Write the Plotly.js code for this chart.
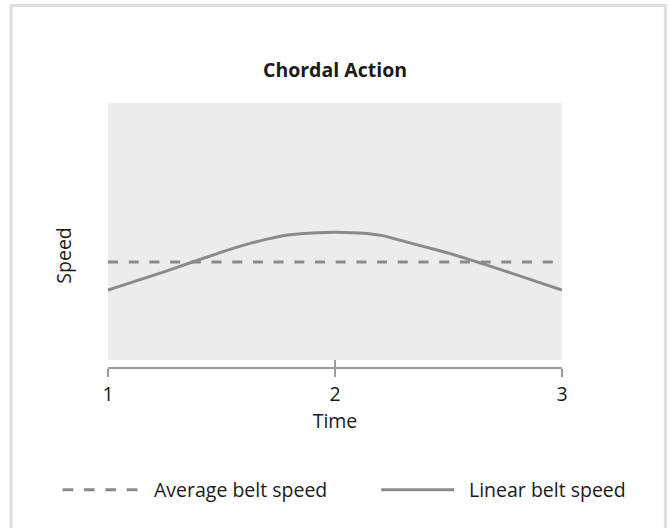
<!DOCTYPE html>
<html>
<head>
<meta charset="utf-8">
<script src="https://cdn.plot.ly/plotly-3.0.1.min.js"></script>
<style>
  html, body { margin: 0; padding: 0; background: #ffffff; }
  #chart { width: 670px; height: 528px; }
</style>
</head>
<body>
<div id="chart"></div>
<script>
// ---- Data ----
const chartTitle = 'Chordal Action';
const xTitle = 'Time';
const yTitle = 'Speed';
const seriesNames = ['Average belt speed', 'Linear belt speed'];
const xTickValues = [1, 2, 3];
const xTickLabels = ['1', '2', '3'];

const avgTime = [1, 3];
const avgSpeed = [1.05, 1.05];

const linTime = [1, 1.25, 1.5, 1.63, 1.7, 1.77, 1.85, 1.92, 2, 2.08, 2.15, 2.21, 2.31, 2.4, 2.5, 2.75, 3];
const linSpeed = [0.77, 0.955, 1.15, 1.24, 1.28, 1.315, 1.335, 1.345, 1.35, 1.345, 1.335, 1.315, 1.255, 1.20, 1.14, 0.96, 0.77];

// ---- Layout helpers (pixel -> paper) ----
const W = 670, H = 528;
const L = 107.5, R = 562, T = 102.7, B = 367;
const px = v => (v - L) / (R - L);
const py = v => (B - v) / (B - T);

const lineColor = '#8a8a8a';
const textColor = '#1a1a1a';
const fontFam = '"Open Sans", "Noto Sans", sans-serif';
const fs = 19.5;

const traces = [
  {
    x: avgTime, y: avgSpeed, name: seriesNames[0], type: 'scatter', mode: 'lines',
    line: { color: lineColor, width: 3, dash: '10px,10.7px' }, showlegend: false,
    hoverinfo: 'skip'
  },
  {
    x: linTime, y: linSpeed, name: seriesNames[1], type: 'scatter', mode: 'lines',
    line: { color: lineColor, width: 3, shape: 'spline', smoothing: 0.6 }, showlegend: false, hoverinfo: 'skip'
  },
  {
    x: [1, 3], y: [null, null], xaxis: 'x2', yaxis: 'y', showlegend: false,
    type: 'scatter', mode: 'lines', hoverinfo: 'skip'
  }
];

const legendY = 490;
const layout = {
  width: W, height: H,
  margin: { l: L, r: W - R, t: T, b: H - B, pad: 0 },
  paper_bgcolor: '#ffffff',
  plot_bgcolor: 'rgba(0,0,0,0)',
  font: { family: fontFam, color: textColor, size: fs },
  title: {
    text: '<b>' + chartTitle + '</b>',
    font: { family: fontFam, size: 19.5, color: textColor },
    x: 0.5, xref: 'paper', xanchor: 'center',
    y: 1 - 70 / H, yref: 'container', yanchor: 'middle'
  },
  xaxis: {
    range: [1, 3], tickvals: xTickValues, ticktext: xTickLabels,
    showline: true, linecolor: '#9a9a9a', linewidth: 1.5,
    ticks: 'outside', ticklen: 8, tickwidth: 1.5, tickcolor: '#9a9a9a',
    showgrid: false, zeroline: false, fixedrange: true,
    tickfont: { family: fontFam, size: fs, color: textColor },
    ticklabelstandoff: 1,
    title: { text: xTitle, font: { family: fontFam, size: fs, color: textColor }, standoff: 4 }
  },
  xaxis2: {
    overlaying: 'x', matches: 'x', range: [1, 3], tickvals: xTickValues,
    showticklabels: false, ticks: 'inside', ticklen: 7, tickwidth: 1.5, tickcolor: '#9a9a9a',
    showline: false, showgrid: false, zeroline: false, side: 'bottom', fixedrange: true
  },
  yaxis: {
    range: [0, (B - T) / 100], showticklabels: false, ticks: '', showline: false,
    showgrid: false, zeroline: false, fixedrange: true
  },
  shapes: [
    // plot background
    { type: 'rect', xref: 'paper', yref: 'paper', x0: 0, x1: 1, y0: py(360), y1: 1,
      fillcolor: '#ebecec', line: { width: 0 }, layer: 'below' },
    // outer frame
    { type: 'rect', xref: 'paper', yref: 'paper', x0: px(10.5), x1: px(665.5), y0: py(5), y1: py(540),
      fillcolor: 'rgba(0,0,0,0)', line: { color: '#dddddd', width: 3 }, layer: 'below' },
    // legend samples
    { type: 'line', xref: 'paper', yref: 'paper', x0: px(62), x1: px(140), y0: py(legendY), y1: py(legendY),
      line: { color: lineColor, width: 3, dash: '10.7px,10.7px' } },
    { type: 'line', xref: 'paper', yref: 'paper', x0: px(381), x1: px(454), y0: py(legendY), y1: py(legendY),
      line: { color: lineColor, width: 3 } }
  ],
  annotations: [
    { text: yTitle, xref: 'paper', yref: 'paper', x: px(63), y: py(256), textangle: -90,
      showarrow: false, xanchor: 'center', yanchor: 'middle',
      font: { family: fontFam, size: fs, color: textColor } },
    { text: seriesNames[0], xref: 'paper', yref: 'paper', x: px(152), y: py(legendY),
      showarrow: false, xanchor: 'left', yanchor: 'middle',
      font: { family: fontFam, size: fs, color: textColor } },
    { text: seriesNames[1], xref: 'paper', yref: 'paper', x: px(467), y: py(legendY),
      showarrow: false, xanchor: 'left', yanchor: 'middle',
      font: { family: fontFam, size: fs, color: textColor } }
  ],
  showlegend: false
};

Plotly.newPlot('chart', traces, layout, { staticPlot: true, displayModeBar: false });
</script>
</body>
</html>
